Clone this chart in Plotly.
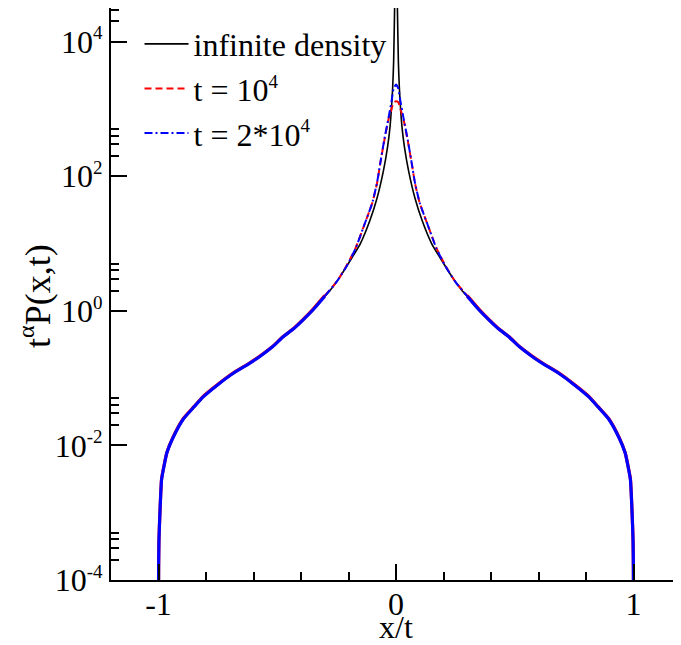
import plotly.graph_objects as go

# ---- data ----
x_inf = [-1.0, -0.9995, -0.998, -0.994, -0.987, -0.975, -0.965, -0.938, -0.896, -0.85, -0.811,
         -0.75, -0.685, -0.62, -0.573, -0.52, -0.475, -0.43, -0.39, -0.35, -0.306, -0.278,
         -0.236, -0.194, -0.15, -0.11, -0.08, -0.053, -0.035, -0.025, -0.014, -0.010, -0.006,
         -0.003, 0.0,
         0.003, 0.006, 0.010, 0.014, 0.025, 0.035, 0.053, 0.08, 0.11, 0.15, 0.194, 0.236,
         0.278, 0.306, 0.35, 0.39, 0.43, 0.475, 0.52, 0.573, 0.62, 0.685, 0.75, 0.811, 0.85,
         0.896, 0.938, 0.965, 0.975, 0.987, 0.994, 0.998, 0.9995, 1.0]
y_inf = [5e-5, 1.5e-4, 4e-4, 1.0e-3, 3.1e-3, 5.2e-3, 7.6e-3, 1.3e-2, 2.4e-2, 3.7e-2, 5.2e-2,
         7.9e-2, 0.117, 0.162, 0.209, 0.29, 0.41, 0.54, 0.73, 1.02, 1.55, 2.0,
         3.2, 5.5, 10, 22, 47, 120, 280, 550, 2100, 5000, 3e4,
         2e5, 1e7,
         2e5, 3e4, 5000, 2100, 550, 280, 120, 47, 22, 10, 5.5, 3.2,
         2.0, 1.55, 1.02, 0.73, 0.54, 0.41, 0.29, 0.209, 0.162, 0.117, 7.9e-2, 5.2e-2, 3.7e-2,
         2.4e-2, 1.3e-2, 7.6e-3, 5.2e-3, 3.1e-3, 1.0e-3, 4e-4, 1.5e-4, 5e-5]

x_sim = [-1.0, -0.9995, -0.998, -0.994, -0.987, -0.975, -0.965, -0.938, -0.896, -0.85, -0.811,
         -0.75, -0.685, -0.62, -0.573, -0.52, -0.475, -0.43, -0.39, -0.35, -0.30,
         -0.25, -0.208, -0.17, -0.131, -0.10, -0.08, -0.067, -0.05, -0.032, -0.018, -0.01, 0.0,
         0.01, 0.018, 0.032, 0.05, 0.067, 0.08, 0.10, 0.131, 0.17, 0.208, 0.25,
         0.30, 0.35, 0.39, 0.43, 0.475, 0.52, 0.573, 0.62, 0.685, 0.75, 0.811, 0.85,
         0.896, 0.938, 0.965, 0.975, 0.987, 0.994, 0.998, 0.9995, 1.0]
y_t1 = [5e-5, 1.5e-4, 4e-4, 1.0e-3, 3.2e-3, 5.4e-3, 7.8e-3, 1.35e-2, 2.5e-2, 3.8e-2, 5.4e-2,
        8.1e-2, 0.12, 0.165, 0.213, 0.295, 0.415, 0.55, 0.75, 1.05, 1.68,
        2.7, 4.7, 8.6, 20, 40, 78, 150, 330, 690, 1020, 1250, 1300,
        1250, 1020, 690, 330, 150, 78, 40, 20, 8.6, 4.7, 2.7,
        1.68, 1.05, 0.75, 0.55, 0.415, 0.295, 0.213, 0.165, 0.12, 8.1e-2, 5.4e-2, 3.8e-2,
        2.5e-2, 1.35e-2, 7.8e-3, 5.4e-3, 3.2e-3, 1.0e-3, 4e-4, 1.5e-4, 5e-5]
y_t2 = [5e-5, 1.5e-4, 4e-4, 1.0e-3, 3.1e-3, 5.3e-3, 7.7e-3, 1.32e-2, 2.45e-2, 3.75e-2, 5.3e-2,
        8.0e-2, 0.118, 0.163, 0.21, 0.292, 0.412, 0.545, 0.74, 1.03, 1.65,
        2.7, 4.6, 8.5, 20, 40, 80, 150, 340, 720, 1350, 2000, 2300,
        2000, 1350, 720, 340, 150, 80, 40, 20, 8.5, 4.6, 2.7,
        1.65, 1.03, 0.74, 0.545, 0.412, 0.292, 0.21, 0.163, 0.118, 8.0e-2, 5.3e-2, 3.75e-2,
        2.45e-2, 1.32e-2, 7.7e-3, 5.3e-3, 3.1e-3, 1.0e-3, 4e-4, 1.5e-4, 5e-5]

SUP = "<sup><span style='font-size:19px'>{}</span></sup>"
y_tickvals = [1e-4, 1e-2, 1, 1e2, 1e4]
y_ticktext = ["10" + SUP.format(e) for e in ("-4", "-2", "0", "2", "4")]
y_minor = [m * 10.0 ** e for e in (-4, -2, 0, 2, 4) for m in (2, 3, 4, 5)]
x_tickvals = [-1, 0, 1]
x_ticktext = ["-1", "0", "1"]
series_names = ["infinite density", "t = 10" + SUP.format("4"), "t = 2*10" + SUP.format("4")]

FONT = "Liberation Serif"

# split simulation series into noisy tails (solid-looking) and centre (dashed)
centre = [i for i, v in enumerate(x_sim) if abs(v) <= 0.30]
left = [i for i, v in enumerate(x_sim) if v <= -0.30]
right = [i for i, v in enumerate(x_sim) if v >= 0.30]

def pick(arr, idx):
    return [arr[i] for i in idx]

fig = go.Figure()
fig.add_trace(go.Scatter(x=x_inf, y=y_inf, mode="lines", name=series_names[0],
                         line=dict(color="black", width=1.6, shape="spline", smoothing=0.5)))
for ys, col, dash, name in [(y_t1, "#ff0000", "7px,4px", series_names[1]),
                            (y_t2, "#0000ff", "8px,3px,2px,3px", series_names[2])]:
    fig.add_trace(go.Scatter(x=pick(x_sim, centre), y=pick(ys, centre), mode="lines", name=name,
                             line=dict(color=col, width=2, dash=dash, shape="spline", smoothing=0.5)))
    for idx in (left, right):
        fig.add_trace(go.Scatter(x=pick(x_sim, idx), y=pick(ys, idx), mode="lines",
                                 showlegend=False, hoverinfo="skip",
                                 line=dict(color=col, width=3.2, shape="spline", smoothing=0.5)))

# the page body adds an 8px offset; the figure is sized so the plot area lands where the reference has it
fig.update_layout(
    width=673, height=637,
    margin=dict(l=103, r=0, t=0, b=65, autoexpand=False),
    plot_bgcolor="white", paper_bgcolor="white",
    font=dict(family=FONT, size=31, color="black"),
    showlegend=True,
    legend=dict(x=0.05, y=0.985, xanchor="left", yanchor="top", bgcolor="rgba(0,0,0,0)",
                font=dict(family=FONT, size=32), tracegroupgap=0, itemwidth=44),
    annotations=[dict(text="t<sup><span style='font-size:24px'>α</span></sup>P(x,t)",
                      xref="paper", yref="paper",
                      x=-0.133, y=0.497, xanchor="center", yanchor="middle", textangle=-90,
                      showarrow=False, font=dict(family=FONT, size=36))],
)
fig.update_xaxes(
    range=[-1.2, 1.2], tickmode="array", tickvals=x_tickvals, ticktext=x_ticktext,
    ticks="inside", ticklen=16, tickwidth=1.5, tickcolor="black",
    showline=True, linecolor="black", linewidth=2, mirror=True,
    showgrid=False, zeroline=False, automargin=False, ticklabelstandoff=-5,
    minor=dict(dtick=0.2, tick0=0, ticks="inside", ticklen=8, tickwidth=1.5, tickcolor="black", showgrid=False),
    tickfont=dict(family=FONT, size=32),
    title=dict(text="x/t", font=dict(family=FONT, size=32), standoff=0),
)
fig.update_yaxes(
    type="log", range=[-4, 4.5], tickmode="array", tickvals=y_tickvals, ticktext=y_ticktext,
    ticks="inside", ticklen=16, tickwidth=1.5, tickcolor="black",
    showline=True, linecolor="black", linewidth=2, mirror=False,
    showgrid=False, zeroline=False, automargin=False,
    minor=dict(tickmode="array", tickvals=y_minor, ticks="inside", ticklen=8, tickwidth=1.5,
               tickcolor="black", showgrid=False),
    tickfont=dict(family=FONT, size=32),
)

fig.write_html("out.html")
